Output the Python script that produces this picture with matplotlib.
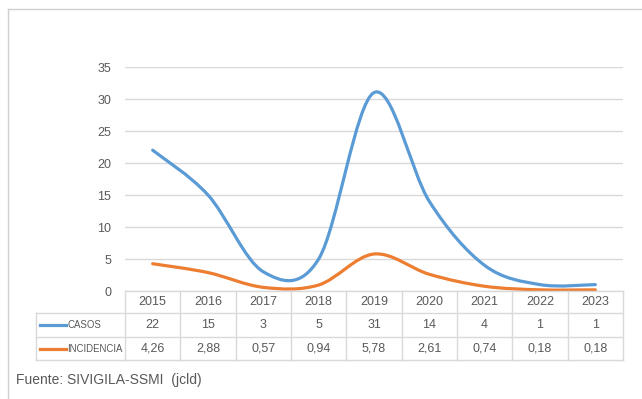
import matplotlib.pyplot as plt
import matplotlib.transforms as mtransforms
from matplotlib.path import Path
from matplotlib.patches import PathPatch
from matplotlib.lines import Line2D

years = [2015, 2016, 2017, 2018, 2019, 2020, 2021, 2022, 2023]
casos = [22, 15, 3, 5, 31, 14, 4, 1, 1]
incidencia = [4.26, 2.88, 0.57, 0.94, 5.78, 2.61, 0.74, 0.18, 0.18]

BLUE = '#5B9BD5'
ORANGE = '#ED7D31'
GRID = '#D9D9D9'
TEXT = '#595959'
FONT = ['Liberation Sans', 'DejaVu Sans']

W, H = 642, 399

def fx(px):
    return px / W

def fy(py):
    return 1 - py / H

def smooth_path(x, y):
    # Excel-style smoothed line: cubic bezier segments through the points
    n = len(x)
    verts = [(x[0], y[0])]
    codes = [Path.MOVETO]
    for i in range(n - 1):
        a = max(i - 1, 0)
        b = min(i + 2, n - 1)
        c1 = (x[i] + (x[i + 1] - x[a]) / 6, y[i] + (y[i + 1] - y[a]) / 6)
        c2 = (x[i + 1] - (x[b] - x[i]) / 6, y[i + 1] - (y[b] - y[i]) / 6)
        verts += [c1, c2, (x[i + 1], y[i + 1])]
        codes += [Path.CURVE4] * 3
    return Path(verts, codes)

fig = plt.figure(figsize=(W / 100, H / 100), dpi=100)
ax = fig.add_axes([fx(125), fy(291), fx(623) - fx(125), fy(67) - fy(291)])

xs = list(range(len(years)))
for vals, col in [(casos, BLUE), (incidencia, ORANGE)]:
    ax.add_patch(PathPatch(smooth_path(xs, vals), facecolor='none', edgecolor=col,
                           lw=2.3, capstyle='round', zorder=3))

ax.set_xlim(-0.5, len(years) - 0.5)
ax.set_ylim(0, 35)
ax.set_yticks(range(0, 36, 5))
ax.set_xticks([])
ax.grid(axis='y', color=GRID, lw=1)
ax.set_axisbelow(True)
ax.tick_params(axis='y', length=0, pad=10, labelcolor=TEXT, labelsize=9)
for lab in ax.get_yticklabels():
    lab.set_family(FONT)
for s in ax.spines.values():
    s.set_visible(False)

# data table under the axis
tr = mtransforms.blended_transform_factory(ax.transData, fig.transFigure)
row_top, row1, row2, row3 = 291, 313, 337, 360
for yy, x0 in [(row_top, 125), (row1, 36), (row2, 36), (row3, 36)]:
    fig.add_artist(Line2D([fx(x0), fx(623)], [fy(yy), fy(yy)], color=GRID, lw=1))
fig.add_artist(Line2D([fx(36), fx(36)], [fy(row1), fy(row3)], color=GRID, lw=1))
for k in range(len(years) + 1):
    xb = k - 0.5
    fig.add_artist(Line2D([xb, xb], [fy(row_top), fy(row3)], color=GRID, lw=1, transform=tr))

for i, yr in enumerate(years):
    fig.text(i, fy((row_top + row1) / 2), str(yr), transform=tr, ha='center', va='center',
             color=TEXT, fontsize=9, family=FONT)
    fig.text(i, fy((row1 + row2) / 2), str(casos[i]), transform=tr, ha='center', va='center',
             color=TEXT, fontsize=9, family=FONT)
    fig.text(i, fy((row2 + row3) / 2), f'{incidencia[i]:.2f}'.replace('.', ','), transform=tr,
             ha='center', va='center', color=TEXT, fontsize=9, family=FONT)

for yy, col, name in [((row1 + row2) / 2, BLUE, 'CASOS'), ((row2 + row3) / 2, ORANGE, 'INCIDENCIA')]:
    fig.add_artist(Line2D([fx(40), fx(66)], [fy(yy), fy(yy)], color=col, lw=2.3))
    fig.text(fx(67), fy(yy), name, ha='left', va='center', color=TEXT, fontsize=6.9, family=FONT)

# outer frame of the chart area
fig.add_artist(Line2D([fx(8), 1], [fy(9), fy(9)], color='#D0D0D0', lw=1))
fig.add_artist(Line2D([fx(8), fx(8)], [fy(9), 0], color='#D0D0D0', lw=1))

fig.text(fx(16), fy(380), 'Fuente: SIVIGILA-SSMI  (jcld)', ha='left', va='center',
         color=TEXT, fontsize=10, family=FONT)

plt.savefig('out.png', dpi=100)
